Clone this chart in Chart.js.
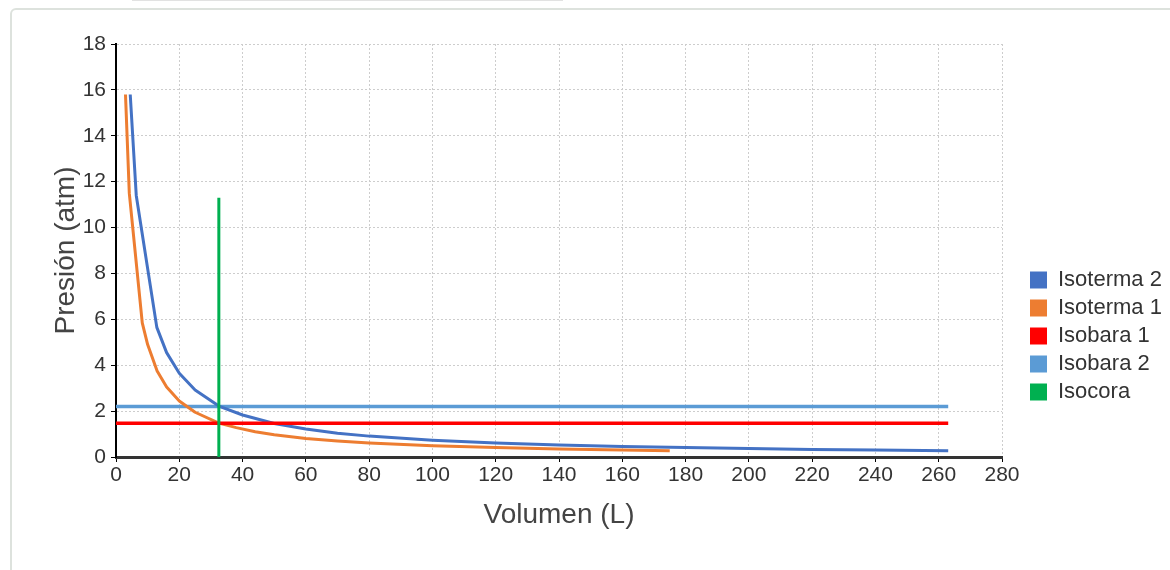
<!DOCTYPE html>
<html>
<head>
<meta charset="utf-8">
<script src="https://cdn.jsdelivr.net/npm/chart.js@4.4.0/dist/chart.umd.min.js"></script>
<style>
html, body { margin: 0; padding: 0; background: #fff; width: 1170px; height: 570px; overflow: hidden; }
#topline { position: absolute; left: 132px; top: 0; width: 431px; height: 1px; background: #e2e2e2; }
#card { position: absolute; left: 10px; top: 8px; width: 1200px; height: 600px; border: 2px solid #dde2dd; border-radius: 6px; box-sizing: border-box; }
#wrap { position: absolute; left: 0; top: 0; width: 1170px; height: 570px; }
</style>
</head>
<body>
<div id="topline"></div>
<div id="card"></div>
<div id="wrap"><canvas id="chart_pv"></canvas></div>
<script>
// volumen (L) / presion (atm)
var isoterma2V = [4.5, 6.4, 12.9, 16, 20, 25, 32.5, 40, 50, 60, 70, 80, 100, 120, 140, 160, 180, 200, 220, 240, 263];
var isoterma2P = [15.8, 11.4, 5.65, 4.55, 3.65, 2.92, 2.22, 1.83, 1.46, 1.22, 1.04, 0.91, 0.73, 0.61, 0.52, 0.46, 0.41, 0.37, 0.33, 0.3, 0.27];

var isoterma1V = [3.0, 4.2, 8.3, 10, 13, 16, 20, 25, 32.5, 38, 44, 50, 60, 70, 80, 100, 120, 140, 160, 175];
var isoterma1P = [15.8, 11.5, 5.85, 4.9, 3.75, 3.05, 2.44, 1.95, 1.48, 1.28, 1.1, 0.97, 0.81, 0.7, 0.61, 0.49, 0.41, 0.35, 0.3, 0.27];

var isobara1V = [0, 263];
var isobara1P = [1.47, 1.47];

var isobara2V = [0, 263];
var isobara2P = [2.2, 2.2];

var isocoraV = [32.5, 32.5];
var isocoraP = [0, 11.3];

function pts(xs, ys) {
    return xs.map(function (x, i) { return { x: x, y: ys[i] }; });
}

Chart.defaults.font.family = '"Liberation Sans", Arial, sans-serif';

var chart_pv = new Chart(document.getElementById('chart_pv'), {
    type: 'line',
    data: {
        datasets: [
            { label: 'Isoterma 2', data: pts(isoterma2V, isoterma2P), borderColor: '#4472C4', backgroundColor: '#4472C4', borderWidth: 3, order: 2 },
            { label: 'Isoterma 1', data: pts(isoterma1V, isoterma1P), borderColor: '#ED7D31', backgroundColor: '#ED7D31', borderWidth: 3, order: 3 },
            { label: 'Isobara 1', data: pts(isobara1V, isobara1P), borderColor: '#FF0000', backgroundColor: '#FF0000', borderWidth: 3.5, order: 1 },
            { label: 'Isobara 2', data: pts(isobara2V, isobara2P), borderColor: '#5B9BD5', backgroundColor: '#5B9BD5', borderWidth: 3.5, order: 4 },
            { label: 'Isocora', data: pts(isocoraV, isocoraP), borderColor: '#00B050', backgroundColor: '#00B050', borderWidth: 3, order: 0 }
        ]
    },
    options: {
        animation: false,
        responsive: true,
        maintainAspectRatio: false,
        layout: { padding: { left: 0, top: 44, right: 0, bottom: 0 } },
        elements: {
            point: { radius: 0, hoverRadius: 0 },
            line: { tension: 0, fill: false, borderJoinStyle: 'round' }
        },
        plugins: {
            tooltip: { enabled: false },
            legend: {
                position: 'right',
                align: 'start',
                labels: {
                    boxWidth: 17,
                    boxHeight: 17,
                    padding: 6,
                    color: '#333',
                    font: { size: 22 },
                    sort: function (a, b) { return a.datasetIndex - b.datasetIndex; },
                    generateLabels: function (chart) {
                        return Chart.defaults.plugins.legend.labels.generateLabels(chart).map(function (l) {
                            l.fillStyle = l.strokeStyle;
                            l.lineWidth = 0;
                            return l;
                        });
                    }
                }
            }
        },
        scales: {
            x: {
                type: 'linear',
                min: 0,
                max: 280,
                ticks: { stepSize: 20, color: '#333', padding: 1, font: { size: 21 }, maxRotation: 0, autoSkip: false },
                grid: { color: '#cdcdcd', lineWidth: 1, tickColor: '#000', tickLength: 5 },
                border: { color: '#333', width: 3, dash: [2, 2] },
                title: { display: true, text: 'Volumen (L)', color: '#444', font: { size: 28 }, padding: { top: 0, bottom: 38 } },
                afterFit: function (scale) { scale.height = 113; }
            },
            y: {
                min: 0,
                max: 18,
                ticks: { stepSize: 2, color: '#333', padding: 5, font: { size: 21 } },
                grid: { color: '#cdcdcd', lineWidth: 1, tickColor: '#000', tickLength: 5 },
                border: { color: '#000', width: 2, dash: [2, 2] },
                title: { display: true, text: 'Presión (atm)', color: '#444', font: { size: 28 }, padding: { top: 49, bottom: 0 } },
                afterFit: function (scale) { scale.width = 116; }
            }
        }
    },
    plugins: [{
        id: 'legendPlace',
        beforeLayout: function (chart) {
            var lg = chart.legend;
            if (lg && !lg.fitPatched) {
                var fit = lg.fit;
                lg.fit = function () { fit.call(this); this.width = 168; };
                lg.fitPatched = true;
            }
        },
        afterLayout: function (chart) {
            chart.legend.left = 1024;
            chart.legend.top = 263;
        }
    }]
});
</script>
</body>
</html>
